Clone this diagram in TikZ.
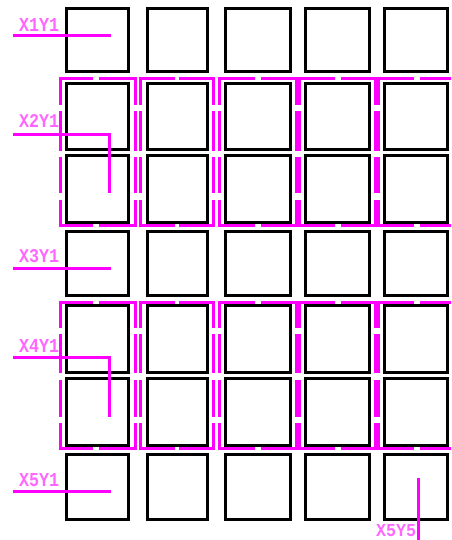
\documentclass[tikz,border=0pt]{standalone}
\usepackage{graphicx}
\usepackage{fontspec}
\setmonofont{Liberation Mono}
\definecolor{mag}{RGB}{255,0,255}
\tikzset{
  sq/.style={draw=black, line width=3pt, inner sep=0pt},
  mline/.style={draw=mag, line width=3pt},
  lbl/.style={text=mag!60, inner sep=0pt, anchor=south west, font=\ttfamily\bfseries}
}
\newcommand{\lbltxt}[1]{\resizebox{40pt}{13pt}{#1}}
\begin{document}
\begin{tikzpicture}[x=1pt,y=-1pt]
\useasboundingbox (0,0) rectangle (451,540);
\fill[white] (0,0) rectangle (451,540);
\begin{scope}
\clip (0,0) rectangle (451,540);

% black squares
\foreach \c/\l/\r in {1/65.3/129.7, 2/145.5/208.5, 3/224/291.7, 4/304/370.7, 5/383/449}{
  \foreach \rr/\t/\b in {1/6.7/73, 2/82/151, 3/154/223.7, 4/230/297, 5/304/373.7, 6/376.7/446.7, 7/453.3/520.7}{
    \node[sq, minimum width={\r-\l-3}, minimum height={\b-\t-3}] (s\rr\c) at ({(\l+\r)/2},{(\t+\b)/2}) {};
  }
}

% magenta dashed group outlines
\foreach \T/\B/\ga/\gb/\gc/\gd/\ge/\gf in {78.7/225.2/105/111/151/157/193/200, 302/448/328/334/373/380/417/423}{
  \foreach \L/\R/\G/\W in {60.7/135.3/93/6, 140.3/213.5/175/3.5, 219.5/296.5/255/6, 299.5/375.5/334.5/6, 378.5/455.5/414/6}{
    \draw[mline] ({\L-1.5},\T) -- (\G,\T) (\G+\W,\T) -- ({\R+1.5},\T);
    \draw[mline] ({\L-1.5},\B) -- (\G,\B) (\G+\W,\B) -- ({\R+1.5},\B);
    \foreach \X in {\L,\R}{
      \draw[mline] (\X,{\T-1.5}) -- (\X,\ga) (\X,\gb) -- (\X,\gc) (\X,\gd) -- (\X,\ge) (\X,\gf) -- (\X,{\B+1.5});
    }
  }
}

% pointer lines
\coordinate (a1) at (13,36);   \coordinate (b1) at (111,36);
\coordinate (a2) at (13,134.5); \coordinate (m2) at (109.5,134.5); \coordinate (b2) at (109.5,193);
\coordinate (a3) at (13,268);  \coordinate (b3) at (111,268);
\coordinate (a4) at (13,357.5); \coordinate (m4) at (109.5,357.5); \coordinate (b4) at (109.5,417);
\coordinate (a5) at (13,491.5); \coordinate (b5) at (111,491.5);
\coordinate (a6) at (418.5,478); \coordinate (b6) at (418.5,541);
\draw[mline] (a1) -- (b1);
\draw[mline] (a2) -- (m2) -- (b2);
\draw[mline] (a3) -- (b3);
\draw[mline] (a4) -- (m4) -- (b4);
\draw[mline] (a5) -- (b5);
\draw[mline] (a6) -- (b6);
\end{scope}

% labels
\node[lbl] (t1) at (19,32) {\lbltxt{X1Y1}};
\node[lbl] (t2) at (19,128) {\lbltxt{X2Y1}};
\node[lbl] (t3) at (19,263) {\lbltxt{X3Y1}};
\node[lbl] (t4) at (19,353) {\lbltxt{X4Y1}};
\node[lbl] (t5) at (19,487) {\lbltxt{X5Y1}};
\node[lbl] (t6) at (376,537) {\resizebox{40pt}{12pt}{X5Y5}};
\end{tikzpicture}
\end{document}
